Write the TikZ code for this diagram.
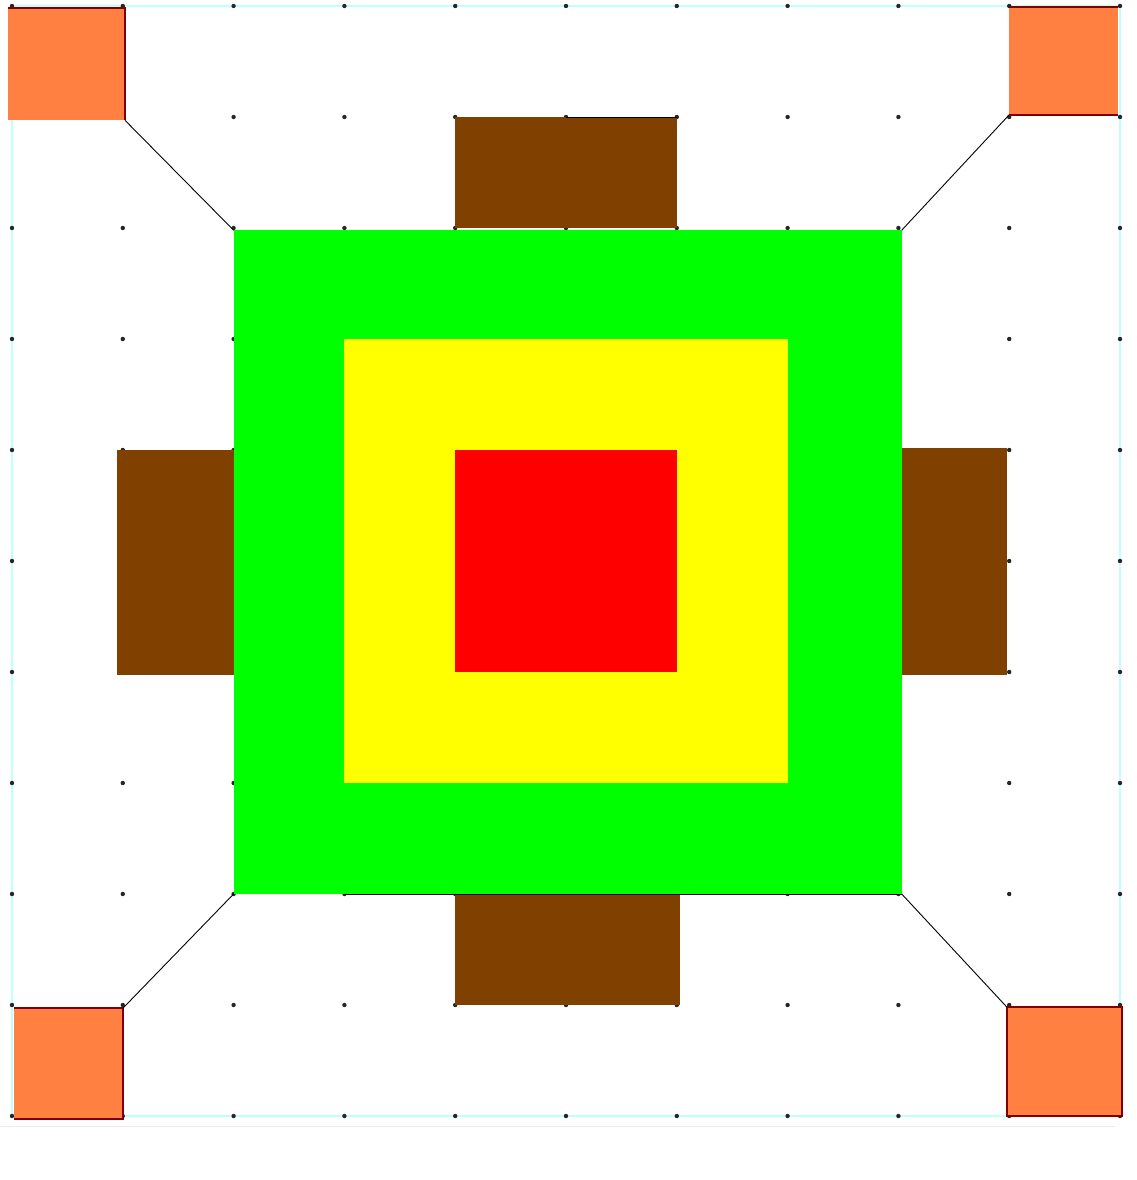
\documentclass[tikz,border=0pt]{standalone}
\usetikzlibrary{fit}
\definecolor{orng}{RGB}{255,128,64}
\definecolor{brwn}{RGB}{128,64,0}
\definecolor{grn}{RGB}{0,255,0}
\definecolor{ylw}{RGB}{255,255,0}
\definecolor{rd}{RGB}{255,0,0}
\definecolor{cyanb}{RGB}{190,255,255}
\definecolor{dred}{RGB}{128,0,0}
\tikzset{
  blk/.style={inner sep=0pt, outer sep=0pt, draw=none},
  corner/.style={blk, fill=orng},
  arm/.style={blk, fill=brwn},
  edge/.style={draw=dred, line width=2pt},
  conn/.style={draw=black, line width=0.9pt},
  griddot/.style={fill=black!85, radius=2.2pt}
}
\begin{document}
\begin{tikzpicture}
\useasboundingbox[fill=white] (0,0) rectangle (1137pt,-1180pt);
\draw[black!8, line width=1pt] (0pt,-1126pt) -- (1115pt,-1126pt);
\begin{scope}[shift={(12pt,-6pt)}, x=110.8pt, y=-111pt]
  % light cyan frame
  \draw[cyanb, line width=2.5pt] (0,0) rectangle (10,10);
  % grid dots
  \foreach \i in {0,...,10}
    \foreach \j in {0,...,10}
      \fill[griddot] (\i,\j) circle;
  % arms
  \node[arm, fit={(4,1) (6,2)}] (armT) {};
  \node[arm, fit={(0.95,4) (2,6.03)}] (armL) {};
  \node[arm, fit={(8,3.98) (8.98,6.03)}] (armR) {};
  \node[arm, fit={(4,8) (6.03,9)}] (armB) {};
  % squares
  \node[blk, fill=grn, fit={(2,2.02) (8.03,8)}] (green) {};
  \node[blk, fill=ylw, fit={(3,3) (7,7)}] (yellow) {};
  \node[blk, fill=rd, fit={(4,4) (6,6)}] (red) {};
  % corner squares
  \node[corner, fit={(-0.04,0.02) (1.02,1.03)}] (tl) {};
  \node[corner, fit={(9,0.01) (9.98,0.98)}] (tr) {};
  \node[corner, fit={(0.02,9.03) (1,10.03)}] (bl) {};
  \node[corner, fit={(8.98,9.02) (10.02,10)}] (br) {};
  % dark red edges
  \draw[edge] (tl.north west) -- (tl.north east) -- (tl.south east);
  \draw[edge] (tr.north west) -- (tr.north east);
  \draw[edge] (tr.south west) -- (tr.south east);
  \draw[edge] (bl.north west) -- (bl.north east) -- (bl.south east) -- (bl.south west);
  \draw[edge] (br.north west) rectangle (br.south east);
  % black segments
  \draw[conn] (5,1) -- (armT.north east);
  \draw[conn] (3,8) -- (green.south east);
  % diagonal connectors
  \draw[conn] (tl.south east) -- (green.north west);
  \draw[conn] (tr.south west) -- (green.north east);
  \draw[conn] (bl.north east) -- (green.south west);
  \draw[conn] (br.north west) -- (green.south east);
\end{scope}
\end{tikzpicture}
\end{document}
